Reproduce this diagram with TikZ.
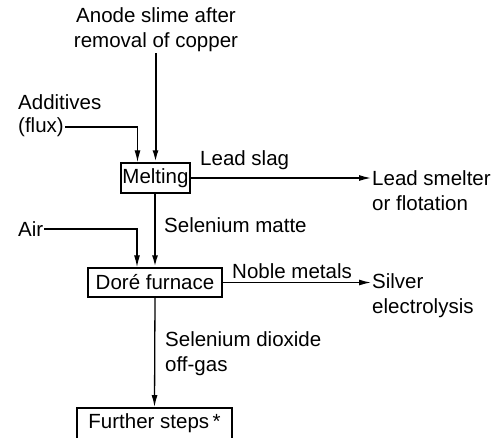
\documentclass[tikz,border=0pt]{standalone}
\usepackage{fontspec}
\setmainfont{Liberation Sans}
\usepackage{tikz}
\usetikzlibrary{arrows.meta, positioning, calc}

\tikzset{
  lbl/.style={font=\fontsize{20.5}{25}\selectfont, inner sep=1pt, align=left},
  stage/.style={draw, line width=1.5pt, font=\fontsize{20.5}{25}\selectfont,
                inner sep=0pt, align=center},
  flow/.style={line width=2pt, -{Latex[length=12pt,width=6pt]}},
  feed/.style={line width=1.3pt, -{Latex[length=12pt,width=6pt]}},
}

\begin{document}
\begin{tikzpicture}[x=10pt, y=-10pt]

\clip (0,0) rectangle (49.4,43.7);
\fill[white] (0,0) rectangle (49.4,43.7);

% inputs
\node[lbl, align=center] (anode) at (15.6,3.0) {Anode slime after\\removal of copper};
\node[lbl, anchor=west] (additives) at (1.7,10.2) {Additives};
\node[lbl, anchor=west] (flux) at (1.7,12.7) {(flux)};
\node[lbl, anchor=west] (air) at (1.7,22.9) {Air};

% process stages
\node[stage, minimum width=69pt, minimum height=30pt] (melt) at (15.55,17.8) {Melting};
\node[stage, minimum width=134pt, minimum height=29pt] (dore) at (15.5,28.25) {Dor\'e furnace};
\node[stage, anchor=north, minimum width=155pt, text height=15pt, text depth=20pt,
      inner ysep=6pt] (further) at (15.45,40.7) {Further steps\,*};

% outputs
\node[lbl, anchor=west] (leadout) at (37.1,19.05) {Lead smelter\\or flotation};
\node[lbl, anchor=west] (silver) at (37.1,29.6) {Silver\\electrolysis};

% stream labels
\node[lbl, anchor=west] (slag) at (19.9,16.0) {Lead slag};
\node[lbl, anchor=west] (matte) at (16.3,22.5) {Selenium matte};
\node[lbl, anchor=west] (noble) at (23.1,27.1) {Noble metals};
\node[lbl, anchor=west] (offgas) at (16.4,35.4) {Selenium dioxide\\off-gas};

% connectors
\draw[flow] (anode.south -| melt.north) -- (melt.north);
\draw[feed] (flux.east) -| ([xshift=-18pt]melt.north);
\draw[flow] (melt.south -| dore.north) -- (dore.north);
\draw[feed] (air.east) -| ([xshift=-18pt]dore.north);
\draw[feed] (melt.east) -- (melt.east -| leadout.west);
\draw[feed] (dore.east) -- (dore.east -| silver.west);
\draw[feed] (dore.south) -- (further.north);

\end{tikzpicture}
\end{document}
